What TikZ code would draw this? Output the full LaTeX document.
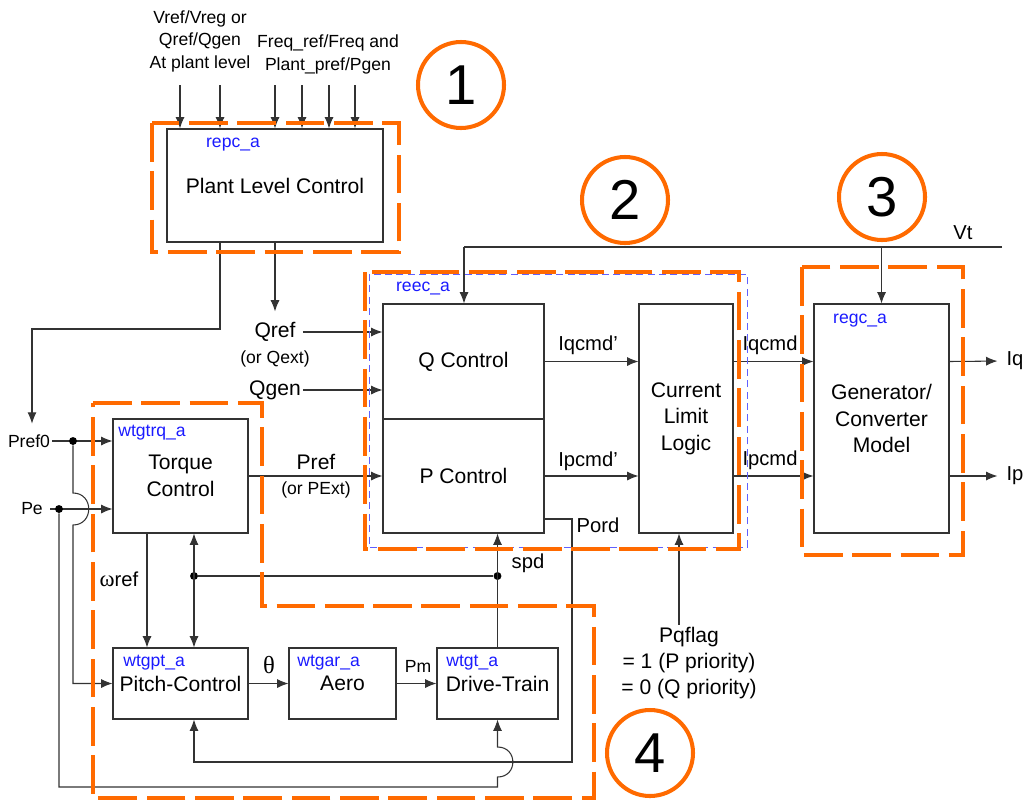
\documentclass[tikz,border=0pt]{standalone}
\usepackage{fontspec}
\setmainfont{Liberation Sans}
\newfontfamily\greekfont{Liberation Serif}
\usetikzlibrary{arrows.meta}
\definecolor{zoneorange}{HTML}{FF6A00}
\definecolor{tagblue}{HTML}{1A1AFF}
\definecolor{reecblue}{HTML}{6060FF}
\tikzset{
  blk/.style 2 args={draw=black!80, line width=0.6pt, minimum width=#1*0.02cm,
    minimum height=#2*0.02cm, inner sep=0pt, align=center, font=\fontsize{12}{15}\selectfont},
  ln/.style={draw=black!80, line width=0.6pt},
  arr/.style={ln, -{Latex[length=6.5pt,width=5.2pt]}},
  arrtwo/.style={ln, {Latex[length=6.5pt,width=5.2pt]}-{Latex[length=6.5pt,width=5.2pt]}},
  zone/.style={draw=zoneorange, line width=2.8pt, dash pattern=on 22pt off 5.5pt},
  num/.style={circle, draw=zoneorange, line width=2.3pt, minimum size=86*0.02cm,
    inner sep=0pt, font=\fontsize{32}{32}\selectfont},
  tag/.style={text=tagblue, inner sep=0pt, font=\fontsize{10}{12}\selectfont},
  lbl/.style={inner sep=1pt, align=center, font=\fontsize{12}{15}\selectfont},
  mid/.style={inner sep=1pt, font=\fontsize{11.5}{14}\selectfont},
  sml/.style={inner sep=1pt, align=center, font=\fontsize{10}{12.8}\selectfont},
  dot/.style={circle, fill=black, inner sep=0pt, minimum size=4.5pt}
}
\begin{document}
\begin{tikzpicture}[x=0.02cm, y=-0.02cm]
\useasboundingbox (0,0) rectangle (1030,805);

% blocks
\node[blk={216}{113}] (plc) at (275,185.5) {Plant Level Control};
\node[blk={161}{115}] (qc) at (463.5,361.5) {Q Control};
\node[blk={161}{114}] (pc) at (463.5,476) {P Control};
\node[blk={94}{229}] (cll) at (686,418.5) {Current\\Limit\\Logic};
\node[blk={135}{229}] (gen) at (881.5,418.5) {Generator/\\Converter\\Model};
\node[blk={135}{114}] (tq) at (180.5,476) {Torque\\Control};
\node[blk={135}{71}] (pitch) at (180.5,683.5) {Pitch-Control};
\node[blk={107}{71}] (aero) at (342.5,683.5) {Aero};
\node[blk={121}{71}] (dt) at (497.5,683.5) {Drive-Train};

\node[tag] (repc) at (233,145) {repc\_a};
\node[tag] (reec) at (423,289) {reec\_a};
\node[tag] (regc) at (860,321) {regc\_a};
\node[tag, anchor=west] (wtgtrq) at (118,433) {wtgtrq\_a};
\node[tag, anchor=west] (wtgpt) at (123,663) {wtgpt\_a};
\node[tag, anchor=west] (wtgar) at (297,663) {wtgar\_a};
\node[tag, anchor=west] (wtgt) at (446,663) {wtgt\_a};

% plant level inputs
\node[sml] (vin) at (200,41) {Vref/Vreg or\\Qref/Qgen\\At plant level};
\node[sml] (fin) at (328,54.5) {Freq\_ref/Freq and\\Plant\_pref/Pgen};
\foreach \x in {180,220,275,302,329,355}
  \draw[arr] (\x,85) -- (plc.north -| \x,0);

% signal labels
\node[sml] (pref0) at (29,441) {Pref0};
\node[sml] (pe) at (32,509) {Pe};
\node[lbl] (qref) at (275,332) {Qref};
\node[sml] (qext) at (275,359) {(or Qext)};
\node[lbl] (qgen) at (275,390) {Qgen};
\node[lbl] (pref) at (316,462) {Pref};
\node[sml] (pext) at (316,490) {(or PExt)};
\node[mid] (iqp) at (588,345) {Iqcmd’};
\node[mid] (ipp) at (588,461) {Ipcmd’};
\node[mid] (iqc) at (770,345) {Iqcmd};
\node[mid] (ipc) at (770,460) {Ipcmd};
\node[mid] (iq) at (1015,361) {Iq};
\node[mid] (ip) at (1015,476) {Ip};
\node[mid] (vt) at (963,233) {Vt};
\node[mid] (pord) at (598,525) {Pord};
\node[mid] (spd) at (528,563) {spd};
\node[mid] (wref) at (119,579) {{\fontsize{13}{14}\greekfont ω}ref};
\node[mid, font=\fontsize{14}{14}\selectfont\greekfont] (theta) at (269,665) {θ};
\node[sml] (pm) at (418,666) {Pm};
\node[lbl] (pqflag) at (689,663) {Pqflag\\= 1 (P priority)\\= 0 (Q priority)};

% connectors
\draw[arr, shorten >=5pt] (plc.south -| 220,0) |- (32,329) -- (pref0.north -| 32,0);
\draw[arr, shorten >=5pt] (plc.south) -- (qref.north);
\draw[arr, shorten <=3pt] (qref.east) -- (qc.west |- qref.east);
\draw[arr] (qgen.east) -- (qc.west |- qgen.east);

\coordinate (vtend) at (1002,247);
\coordinate (vtq) at (464,247);
\draw[ln] (vtend) -- (vtq);
\draw[arr] (vtq) -- (vtq |- qc.north);
\draw[arr] (gen.north |- vtq) -- (gen.north);

\draw[arr] (qc.east) -- (cll.west |- qc.east);
\draw[arr] (pc.east) -- (cll.west |- pc.east);
\draw[arr] (cll.east |- qc.east) -- (gen.west |- qc.east);
\draw[arr] (cll.east |- pc.east) -- (gen.west |- pc.east);
\draw[arr, shorten >=4pt] (gen.east |- qc.east) -- (iq.west);
\draw[arr, shorten >=4pt] (gen.east |- pc.east) -- (ip.west);
\draw[arr] (679,0 |- pqflag.north) -- (679,0 |- cll.south);

\draw[arr] (tq.east) -- (pc.west |- tq.east);
\draw[arr] (pref0.east) -- (tq.west |- pref0.east);
\draw[arr, shorten <=3pt] (pe.east) -- (tq.west |- pe.east);

\node[dot] (d1) at (73,441) {};
\node[dot] (d2) at (59,509) {};
\node[dot] (d3) at (194,576) {};
\node[dot] (d4) at (497.5,576) {};

\draw[arr] (d1) -- (73,493) .. controls (94,493) and (94,525) .. (73,525) |- (pitch.west);
\draw[arr] (d2) |- (497.5,787) -- (497.5,777) .. controls (518,777) and (518,747) .. (497.5,747) -- (dt.south);

\coordinate (pordend) at (572,519);
\draw[arr] (pc.east |- pordend) -- (pordend) |- (194,762) -- (pitch.south -| 194,0);

\draw[arr] (dt.north) -- (dt.north |- pc.south);
\draw[ln] (d4) -- (d3);
\draw[arrtwo] (tq.south -| 194,0) -- (pitch.north -| 194,0);
\draw[arr] (tq.south -| 147,0) -- (pitch.north -| 147,0);
\draw[arr] (pitch.east) -- (aero.west);
\draw[arr] (aero.east) -- (dt.west);

% zones
\draw[draw=reecblue, line width=0.5pt, dash pattern=on 4pt off 2.5pt] (369,274) rectangle (747,547);
\draw[zone] (152,123) rectangle (399,252);
\draw[zone] (365,272) rectangle (739,549);
\draw[zone] (802,267) rectangle (963,555);
\draw[zone] (93,403) -- (262,403) -- (262,606) -- (594,606) -- (594,798) -- (93,798) -- cycle;

\node[num] (n1) at (461,85) {1};
\node[num] (n2) at (625,200) {2};
\node[num] (n3) at (882,197) {3};
\node[num] (n4) at (650,753) {4};
\end{tikzpicture}
\end{document}
